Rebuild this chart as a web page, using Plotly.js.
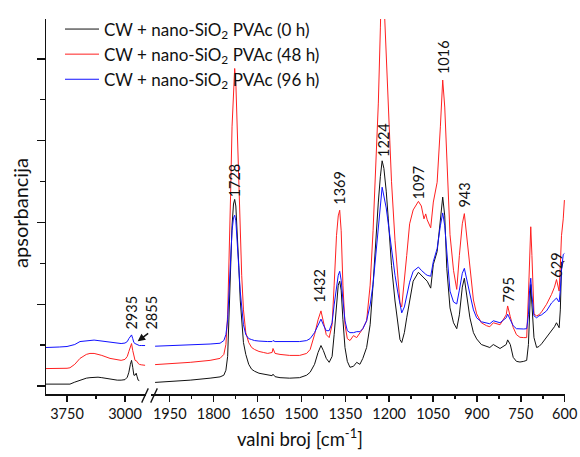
<!DOCTYPE html>
<html>
<head>
<meta charset="utf-8">
<script src="https://cdn.plot.ly/plotly-3.0.1.min.js"></script>
<style>html,body{margin:0;padding:0;background:#fff;}#chart{width:580px;height:457px;}</style>
</head>
<body>
<div id="chart"></div>
<script>
// ---- data (absorbance, arbitrary units) ----
var seriesNames = ['CW + nano-SiO<sub>2</sub> PVAc (0 h)', 'CW + nano-SiO<sub>2</sub> PVAc (48 h)', 'CW + nano-SiO<sub>2</sub> PVAc (96 h)'];

// high wavenumber segment (cm-1)
var wnLeft = [4022, 3950, 3850, 3750, 3712, 3650, 3582, 3500, 3453, 3400,
              3349, 3300, 3194, 3100, 3050, 3000, 2970, 2950, 2930, 2915,
              2900, 2885, 2870, 2855, 2845, 2830, 2815, 2790, 2760, 2740];
var absLeft0h  = [10, 10, 10.5, 10, 10, 12, 14, 16, 16.5, 17,
                  17, 16.5, 15, 14, 14, 14.5, 17, 22, 30, 34,
                  27, 19, 19, 21, 18, 14, 13.5, null, null, null];
var absLeft48h = [25.7, 25.7, 26, 26, 26.5, 30, 36, 40, 41, 41,
                  40, 39, 36, 34.5, 34, 35, 38, 43, 49, 51,
                  44, 37, 34, 33.5, 33, 31, 30, 29.5, 29, 29];
var absLeft96h = [47, 47, 47.5, 48, 48.5, 50, 53, 54, 54.5, 54.5,
                  54, 53.5, 52, 51, 51, 51.5, 53, 56, 58.5, 59.7,
                  56, 52, 51, 50.5, 50, 49.5, 49, 49, 49, 49];

// fingerprint segment (cm-1)
var wnRight = [2000, 1950, 1880, 1812, 1778, 1765, 1758, 1752, 1747, 1742,
               1737, 1732, 1728, 1724, 1719, 1714, 1709, 1704, 1698, 1690,
               1680, 1670, 1660, 1645, 1630, 1615, 1600, 1597, 1590, 1573,
               1540, 1506, 1482, 1470, 1455, 1443, 1433, 1425, 1415, 1405,
               1395, 1388, 1380, 1374, 1369, 1364, 1358, 1351, 1343, 1334,
               1322, 1311, 1300, 1290, 1277, 1265, 1255, 1245, 1237, 1230,
               1224, 1218, 1210, 1203, 1192, 1180, 1170, 1163, 1157, 1148,
               1140, 1130, 1118, 1100, 1090, 1081, 1075, 1070, 1058, 1049,
               1036, 1025, 1017, 1010, 1003, 992, 980, 969, 960, 950,
               943, 935, 924, 912, 901, 885, 867, 856, 844, 821,
               800, 795, 786, 776, 765, 753, 740, 730, 724, 720,
               716, 712, 708, 705, 696, 688, 679, 662, 645, 635,
               628, 622, 619, 615, 611, 605, 601];
var absRight0h = [11.7, 12.5, 14, 16, 17.3, 19, 24, 38, 80, 130,
                  170, 192, 196.7, 190, 165, 130, 95, 70, 52, 40,
                  30, 25, 23, 21, 20, 19, 18.5, 20, 17.5, 16.5,
                  16, 16.5, 19, 22, 30, 42, 49, 44, 36, 32,
                  38, 60, 95, 110, 114, 105, 75, 47, 33, 27,
                  28, 32, 30, 36, 47, 70, 111, 160, 194, 220,
                  235.7, 228, 205, 177, 130, 94, 68, 55, 52, 62,
                  77, 95, 114, 123, 120, 117, 116, 114, 107, 131,
                  144, 175, 199, 180, 127, 87, 72, 66, 80, 108,
                  117, 100, 77, 62, 55.7, 50, 48, 47, 50, 46,
                  50, 54.7, 50, 37, 33, 32.3, 33, 34, 50, 90,
                  110.7, 90, 65, 57, 47, 48, 50.7, 57, 64, 68,
                  72, 68, 67, 85, 127, 134, 134];
var absRight48h = [29.7, 30.5, 32, 34, 36, 40, 50, 80, 130, 200,
                   270, 315, 329, 315, 270, 210, 160, 120, 85, 62,
                   52, 47, 45, 43, 42, 41, 42, 46, 41, 40,
                   39, 39, 41, 45, 60, 75, 84, 74, 60, 57,
                   70, 110, 160, 180, 185.7, 165, 110, 70, 56, 54,
                   59, 57, 62, 66, 74, 110, 165, 230, 294, 370,
                   450, 400, 345, 290, 215, 155, 120, 92, 88, 112,
                   140, 172, 186, 194.7, 190, 177, 182, 176, 168, 194,
                   214, 270, 317.3, 290, 244, 161, 125, 105.7, 140, 172,
                   182.3, 160, 127, 95, 81, 72, 69, 68, 72, 70,
                   80, 89, 78, 67.3, 60, 57.3, 57, 57, 100, 150,
                   169, 140, 100, 80.7, 79, 80, 83, 90.7, 100.7, 108,
                   115.7, 108, 104, 130, 160, 177, 196];
var absRight96h = [48.3, 48.8, 49.5, 50.5, 51.3, 54, 60, 75, 105, 140,
                   165, 178, 180.7, 175, 155, 128, 104, 85, 70, 60,
                   56, 55, 54, 53.5, 53, 53, 53, 54, 53, 53,
                   53, 53, 54, 56, 62, 70, 75.7, 70, 64, 64,
                   72, 90, 110, 120, 124, 115, 95, 74, 64, 62,
                   62, 63, 63, 66, 74, 90, 111, 140, 165, 190,
                   209, 200, 188, 172, 145, 120, 102, 90, 82, 88,
                   101, 113, 124, 128.3, 125, 122, 121, 120, 119, 134,
                   147, 170, 183, 170, 141, 104, 93, 91, 105, 122,
                   127, 115, 101, 85, 77, 73, 72, 71, 74, 72,
                   77, 80.7, 75, 69, 66, 65.7, 65.7, 66, 80, 105,
                   117, 100, 85, 79, 77, 79, 80, 84, 92, 95,
                   97, 94, 93, 105, 125, 141, 142];

// peak labels (cm-1)
var peakLabels = ['1728', '1432', '1369', '1224', '1097', '1016', '943', '795', '629'];
var leftPeakLabels = ['2935', '2855'];

// ---- chart ----
var FONT = 'Lato, "Open Sans", sans-serif';
var colors = ['#111111', '#ff2020', '#1010ff'];
var leftData = [absLeft0h, absLeft48h, absLeft96h];
var rightData = [absRight0h, absRight48h, absRight96h];

var traces = [];
for (var i = 0; i < 3; i++) {
  traces.push({
    x: wnRight, y: rightData[i], xaxis: 'x2', yaxis: 'y', type: 'scatter', mode: 'lines',
    name: seriesNames[i], legendgroup: 'g' + i, showlegend: true,
    line: {color: colors[i], width: 1}
  });
  traces.push({
    x: wnLeft, y: leftData[i], xaxis: 'x', yaxis: 'y', type: 'scatter', mode: 'lines',
    name: seriesNames[i], legendgroup: 'g' + i, showlegend: false,
    line: {color: colors[i], width: 1}
  });
}

// label positions (wavenumber, height) for the rotated peak labels
var labelPos = [[1730, 216], [1436, 109.5], [1368, 208.5], [1222, 256.5], [1101, 214],
                [1016, 340.5], [941, 201.5], [791, 105.5], [627, 130.5]];

var annotations = [];
for (var k = 0; k < peakLabels.length; k++) {
  annotations.push({
    xref: 'x2', yref: 'y', x: labelPos[k][0], y: labelPos[k][1],
    text: peakLabels[k], textangle: -90, showarrow: false,
    xanchor: 'center', yanchor: 'middle',
    font: {family: FONT, size: 14.5, color: '#111'}
  });
}
annotations.push({
  xref: 'x', yref: 'y', x: 2913, y: 82, text: leftPeakLabels[0], textangle: -90,
  showarrow: false, xanchor: 'center', yanchor: 'middle',
  font: {family: FONT, size: 14.5, color: '#111'}
});
annotations.push({
  xref: 'paper', yref: 'y', x: 0.2037, y: 82, text: leftPeakLabels[1], textangle: -90,
  showarrow: false, xanchor: 'center', yanchor: 'middle',
  font: {family: FONT, size: 14.5, color: '#111'}
});
// arrow pointing at the 2855 shoulder
annotations.push({
  xref: 'x', yref: 'y', x: 2836, y: 53.3, text: '', showarrow: true,
  ax: 12, ay: -9, arrowhead: 2, arrowsize: 1, arrowwidth: 1.5, arrowcolor: '#111'
});
// axis titles
annotations.push({
  xref: 'paper', yref: 'paper', x: 0.489, y: -0.116, text: 'valni broj [cm<sup>-1</sup>]',
  showarrow: false, xanchor: 'center', yanchor: 'middle',
  font: {family: FONT, size: 18.5, color: '#111'}
});
annotations.push({
  xref: 'paper', yref: 'paper', x: -0.050, y: 0.483, text: 'apsorbancija', textangle: -90,
  showarrow: false, xanchor: 'center', yanchor: 'middle',
  font: {family: FONT, size: 20, color: '#111'}
});

var axisCommon = {
  showgrid: false, zeroline: false, showline: true, linecolor: '#111', linewidth: 1.5,
  ticks: 'outside', tickcolor: '#111', tickwidth: 1.5, ticklen: 6,
  tickfont: {family: FONT, size: 14.5, color: '#111'}
};

var layout = {
  width: 580, height: 457,
  margin: {l: 46, r: 15, t: 15, b: 63},
  paper_bgcolor: '#fff', plot_bgcolor: '#fff',
  font: {family: FONT, color: '#111'},
  showlegend: true,
  legend: {
    x: 0.027, y: 1.02, xanchor: 'left', yanchor: 'top',
    bgcolor: 'rgba(0,0,0,0)', borderwidth: 0,
    font: {family: FONT, size: 17, color: '#111'},
    traceorder: 'grouped', tracegroupgap: 0, itemwidth: 34
  },
  xaxis: Object.assign({}, axisCommon, {
    domain: [0, 0.1936], range: [4022, 2722], anchor: 'y',
    tickmode: 'linear', tick0: 3000, dtick: 750,
    minor: {tick0: 3000, dtick: 375, ticks: 'outside', ticklen: 3.5, tickwidth: 1.5, tickcolor: '#111', showgrid: false}
  }),
  xaxis2: Object.assign({}, axisCommon, {
    domain: [0.2023, 1], range: [2014, 599], anchor: 'y',
    tickmode: 'linear', tick0: 600, dtick: 150,
    minor: {tick0: 600, dtick: 75, ticks: 'outside', ticklen: 3.5, tickwidth: 1.5, tickcolor: '#111', showgrid: false}
  }),
  yaxis: {
    range: [0, 379], showgrid: false, zeroline: false, showline: true, linecolor: '#111', linewidth: 1.5,
    showticklabels: false, ticks: 'outside', tickcolor: '#111', tickwidth: 1.5, ticklen: 8,
    tickmode: 'linear', tick0: 8, dtick: 82.7,
    minor: {tick0: 8, dtick: 41.35, ticks: 'outside', ticklen: 5, tickwidth: 1.5, tickcolor: '#111', showgrid: false}
  },
  shapes: [
    {type: 'line', xref: 'paper', yref: 'paper', x0: 0.1844, y0: -0.023, x1: 0.1971, y1: 0.015, line: {color: '#111', width: 1.3}},
    {type: 'line', xref: 'paper', yref: 'paper', x0: 0.2017, y0: -0.023, x1: 0.2145, y1: 0.015, line: {color: '#111', width: 1.3}}
  ],
  annotations: annotations
};

Plotly.newPlot('chart', traces, layout, {displayModeBar: false, staticPlot: true});
</script>
</body>
</html>
